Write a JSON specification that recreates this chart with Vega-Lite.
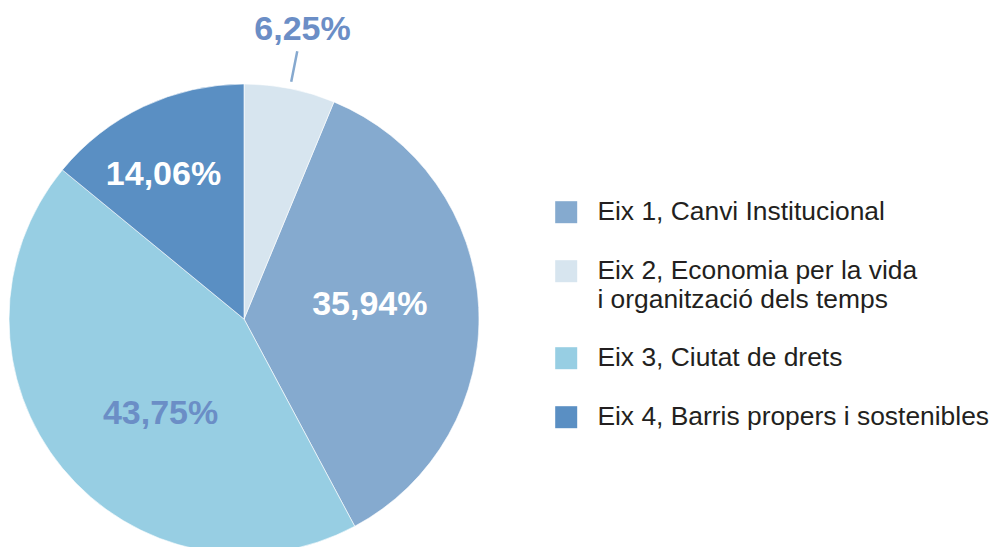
{
  "$schema": "https://vega.github.io/schema/vega-lite/v6.json",
  "width": 488,
  "height": 438,
  "autosize": {"type": "none"},
  "padding": {"left": 0, "top": 100, "right": 506, "bottom": 9},
  "background": "white",
  "config": {"view": {"stroke": null}, "font": "Liberation Sans"},
  "data": {"values": [
    {"eix": "Eix 1, Canvi Institucional", "pct": 35.94, "ordre": 2, "etiqueta": "35,94%"},
    {"eix": "Eix 2, Economia per la vida i organització dels temps", "pct": 6.25, "ordre": 1, "etiqueta": "6,25%"},
    {"eix": "Eix 3, Ciutat de drets", "pct": 43.75, "ordre": 3, "etiqueta": "43,75%"},
    {"eix": "Eix 4, Barris propers i sostenibles", "pct": 14.06, "ordre": 4, "etiqueta": "14,06%"}
  ]},
  "encoding": {
    "theta": {"field": "pct", "type": "quantitative", "stack": true},
    "order": {"field": "ordre", "type": "quantitative"}
  },
  "layer": [
    {
      "mark": {"type": "arc", "outerRadius": 235, "stroke": "white", "strokeWidth": 0.6},
      "encoding": {
        "color": {
          "field": "eix",
          "type": "nominal",
          "scale": {
            "domain": ["Eix 1, Canvi Institucional", "Eix 2, Economia per la vida i organització dels temps", "Eix 3, Ciutat de drets", "Eix 4, Barris propers i sostenibles"],
            "range": ["#85aacf", "#d7e5ef", "#97cee3", "#5a8fc3"]
          },
          "legend": {
            "title": null,
            "orient": "none",
            "legendX": 553,
            "legendY": 99,
            "symbolType": "square",
            "symbolSize": 484,
            "symbolStrokeWidth": 0,
            "labelFont": "Liberation Sans",
            "labelFontSize": 26.4,
            "labelColor": "#231f20",
            "labelOffset": 18,
            "labelLimit": 600,
            "rowPadding": 32,
            "labelExpr": "datum.label == 'Eix 2, Economia per la vida i organització dels temps' ? ['Eix 2, Economia per la vida', 'i organització dels temps'] : datum.label"
          }
        }
      }
    },
    {
      "mark": {"type": "arc", "innerRadius": 242, "outerRadius": 273, "padAngle": 1, "filled": false, "stroke": "#86a9cf", "strokeWidth": 2.5},
      "encoding": {"opacity": {"condition": {"test": "datum.ordre == 1", "value": 1}, "value": 0}}
    },
    {
      "mark": {"type": "text", "radius": 295, "font": "Liberation Sans", "fontWeight": "bold", "fontSize": 34, "color": "#6b8ec6", "dx": 1},
      "encoding": {"text": {"condition": {"test": "datum.ordre == 1", "field": "etiqueta"}, "value": ""}}
    },
    {
      "mark": {"type": "text", "radius": 165, "font": "Liberation Sans", "fontWeight": "bold", "fontSize": 34, "color": "white", "dx": -10, "dy": 5},
      "encoding": {"text": {"condition": {"test": "datum.ordre == 4", "field": "etiqueta"}, "value": ""}}
    },
    {
      "mark": {"type": "text", "radius": 126, "font": "Liberation Sans", "fontWeight": "bold", "fontSize": 34, "color": "white", "dy": -8},
      "encoding": {"text": {"condition": {"test": "datum.ordre == 2", "field": "etiqueta"}, "value": ""}}
    },
    {
      "mark": {"type": "text", "radius": 126, "font": "Liberation Sans", "fontWeight": "bold", "fontSize": 34, "color": "#6b8ec6", "dx": 14, "dy": 15},
      "encoding": {"text": {"condition": {"test": "datum.ordre == 3", "field": "etiqueta"}, "value": ""}}
    }
  ]
}
